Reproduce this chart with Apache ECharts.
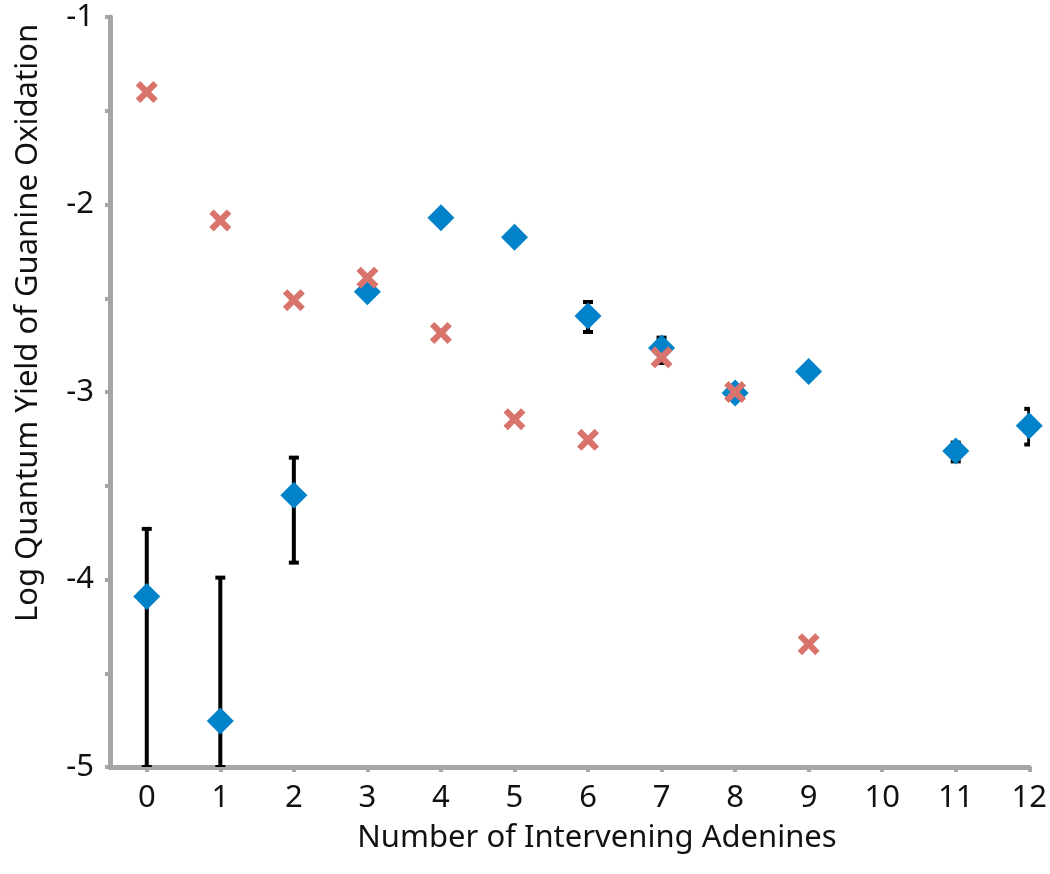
<!DOCTYPE html>
<html>
<head>
<meta charset="utf-8">
<script src="https://cdn.jsdelivr.net/npm/echarts@6/dist/echarts.min.js"></script>
<style>
  html, body { margin: 0; padding: 0; background: #fff; }
  #chart { width: 1050px; height: 874px; }
</style>
</head>
<body>
<div id="chart"></div>
<script>
// tick labels
const xTicks = [0, 1, 2, 3, 4, 5, 6, 7, 8, 9, 10, 11, 12]
const yTicks = [-5, -4, -3, -2, -1]

// measured series (blue diamonds), x = number of adenines
const measuredX = [0, 1, 2, 3, 4, 5, 6, 7, 8, 9, 11, 12]
const measuredY = [-4.09, -4.755, -3.55, -2.465, -2.07, -2.175, -2.595, -2.765, -3.005, -2.89, -3.315, -3.18]

// error bars: x, upper, lower
const errX = [0, 1, 2, 6, 7, 8, 11, 12]
const errHigh = [-3.73, -3.99, -3.35, -2.52, -2.71, -2.975, -3.27, -3.09]
const errLow = [-5, -5, -3.91, -2.68, -2.845, -3.035, -3.37, -3.28]

// second series (red crosses)
const crossX = [0, 1, 2, 3, 4, 5, 6, 7, 8, 9]
const crossY = [-1.4, -2.085, -2.51, -2.39, -2.685, -3.145, -3.255, -2.815, -3.0, -4.345]

const axisGray = '#a6a6a6'
const font = 'Noto Sans'
const fontSize = 31

const chart = echarts.init(document.getElementById('chart'))

// filled "x" marker
const crossPath = 'path://M0,2 L2,0 L5,3 L8,0 L10,2 L7,5 L10,8 L8,10 L5,7 L2,10 L0,8 L3,5 Z'

const option = {
  animation: false,
  grid: { left: 110, right: 17, top: 17, bottom: 107 },
  xAxis: {
    type: 'value',
    min: -0.5,
    max: 12,
    splitLine: { show: false },
    axisLine: { onZero: false, lineStyle: { color: axisGray, width: 5 } },
    axisTick: { customValues: xTicks, length: 5, lineStyle: { color: axisGray, width: 4 } },
    axisLabel: { customValues: xTicks, margin: 16, color: '#111', fontSize: fontSize, fontFamily: font }
  },
  yAxis: {
    type: 'value',
    min: -5,
    max: -1,
    interval: 0.5,
    splitLine: { show: false },
    axisLine: { onZero: false, lineStyle: { color: axisGray, width: 5 } },
    axisTick: { length: 5, lineStyle: { color: axisGray, width: 4 } },
    axisLabel: { customValues: yTicks, margin: 16, color: '#111', fontSize: fontSize, fontFamily: font }
  },
  graphic: [
    {
      type: 'text',
      x: 597, y: 838,
      style: { text: 'Number of Intervening Adenines', fill: '#111', fontSize: fontSize, fontFamily: font, align: 'center', verticalAlign: 'middle' }
    },
    {
      type: 'text',
      x: 28, y: 323,
      rotation: Math.PI / 2,
      style: { text: 'Log Quantum Yield of Guanine Oxidation', fill: '#111', fontSize: fontSize, fontFamily: font, align: 'center', verticalAlign: 'middle' }
    }
  ],
  series: [
    {
      type: 'custom',
      clip: true,
      z: 1,
      data: errX.map((x, i) => [x, errHigh[i], errLow[i]]),
      renderItem: (params, api) => {
        const top = api.coord([api.value(0), api.value(1)])
        const bot = api.coord([api.value(0), api.value(2)])
        const half = 5
        const style = { stroke: '#000', lineWidth: 4 }
        return {
          type: 'group',
          children: [
            { type: 'line', shape: { x1: top[0], y1: top[1], x2: bot[0], y2: bot[1] }, style },
            { type: 'line', shape: { x1: top[0] - half, y1: top[1], x2: top[0] + half, y2: top[1] }, style },
            { type: 'line', shape: { x1: bot[0] - half, y1: bot[1], x2: bot[0] + half, y2: bot[1] }, style }
          ]
        }
      }
    },
    {
      type: 'scatter',
      z: 2,
      symbol: 'diamond',
      symbolSize: 27,
      itemStyle: { color: '#0282c9', opacity: 1 },
      data: measuredX.map((x, i) => [x, measuredY[i]])
    },
    {
      type: 'scatter',
      z: 3,
      symbol: crossPath,
      symbolSize: 22,
      itemStyle: { color: '#d9746c', opacity: 1 },
      data: crossX.map((x, i) => [x, crossY[i]])
    }
  ]
}

chart.setOption(option)
</script>
</body>
</html>
